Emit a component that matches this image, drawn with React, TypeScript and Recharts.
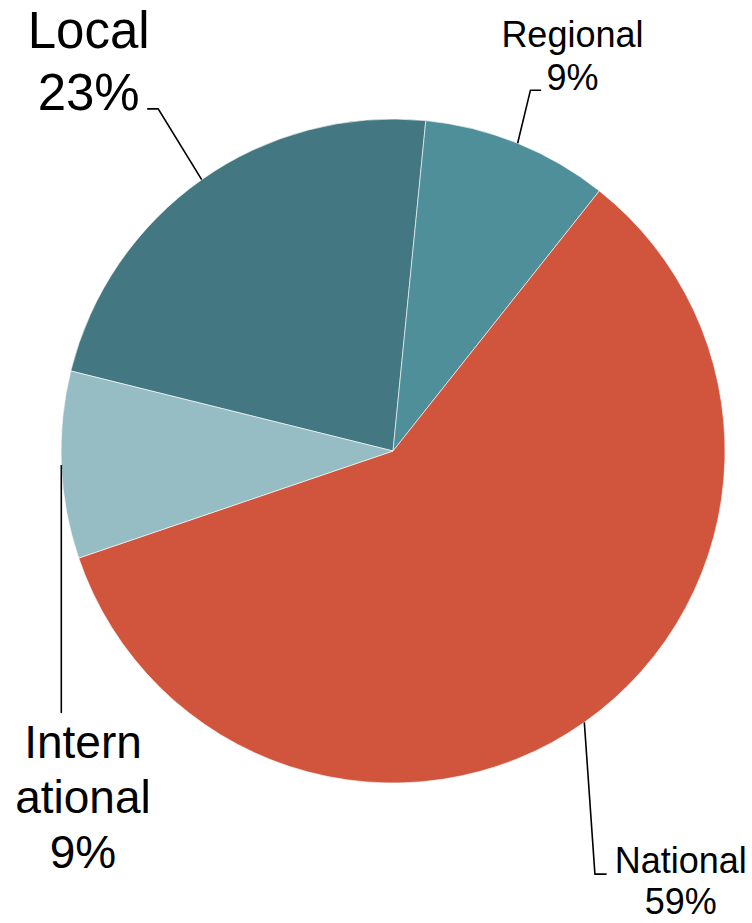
import React from 'react';
import { PieChart, Pie, Cell } from 'recharts';

const categories = ['Local', 'Regional', 'National', 'International'];
const shares = [22.7, 9.1, 59.1, 9.1];
const colors = ['#437882', '#4F8F99', '#D1543D', '#97BDC4'];

const data = categories.map((name, i) => ({ name, value: shares[i] }));

// label placement, relative to the point where the leader touches the slice edge
type Layout = {
  elbow: [number, number];
  end: [number, number];
  textX: number;
  textY: number;
  size: number;
  lineH: number;
  breakAt?: number; // name gets wrapped after this many characters
};

const labelLayout: Record<string, Layout> = {
  Local: { elbow: [-43.5, -70.8], end: [-54.5, -70.8], textX: -113, textY: -131.8, size: 51, lineH: 62 },
  Regional: { elbow: [12.8, -53.1], end: [23.5, -53.1], textX: 54.8, textY: -96.1, size: 36, lineH: 43 },
  National: { elbow: [10.6, 151.8], end: [22.3, 151.8], textX: 96.5, textY: 150.8, size: 36, lineH: 41 },
  International: { elbow: [0, 248], end: [0, 248], textX: 21.7, textY: 293, size: 46, lineH: 55, breakAt: 6 },
};

const RAD = Math.PI / 180;

const renderLabel = (props: any) => {
  const { cx, cy, midAngle, outerRadius, percent, name } = props;
  const lay = labelLayout[name];
  if (!lay) return null;
  const ax = cx + outerRadius * Math.cos(-midAngle * RAD);
  const ay = cy + outerRadius * Math.sin(-midAngle * RAD);
  const pct = `${Math.round(percent * 100)}%`;
  const lines = lay.breakAt ? [name.slice(0, lay.breakAt), name.slice(lay.breakAt)] : [name];
  lines.push(pct);
  const path = `M${ax},${ay} L${ax + lay.elbow[0]},${ay + lay.elbow[1]} L${ax + lay.end[0]},${ay + lay.end[1]}`;
  return (
    <g>
      <path d={path} stroke="#000" strokeWidth={1.6} fill="none" />
      <text
        x={ax + lay.textX}
        y={ay + lay.textY}
        textAnchor="middle"
        fontFamily="'Liberation Sans', Arial, sans-serif"
        fontSize={lay.size}
        fill="#000"
      >
        {lines.map((ln, i) => (
          <tspan key={i} x={ax + lay.textX} dy={i === 0 ? 0 : lay.lineH}>
            {ln}
          </tspan>
        ))}
      </text>
    </g>
  );
};

export default function App() {
  return (
    <div style={{ position: 'absolute', left: 0, top: 0, width: 752, height: 923, background: '#fff' }}>
      <PieChart width={752} height={923} margin={{ top: 0, right: 0, bottom: 0, left: 0 }}>
        <Pie
          data={data}
          dataKey="value"
          nameKey="name"
          cx={393}
          cy={451}
          outerRadius={332}
          startAngle={166.05}
          endAngle={-193.95}
          stroke="#ffffff"
          strokeWidth={0.6}
          label={renderLabel}
          labelLine={false}
          isAnimationActive={false}
        >
          {data.map((d, i) => (
            <Cell key={d.name} fill={colors[i]} />
          ))}
        </Pie>
      </PieChart>
    </div>
  );
}
